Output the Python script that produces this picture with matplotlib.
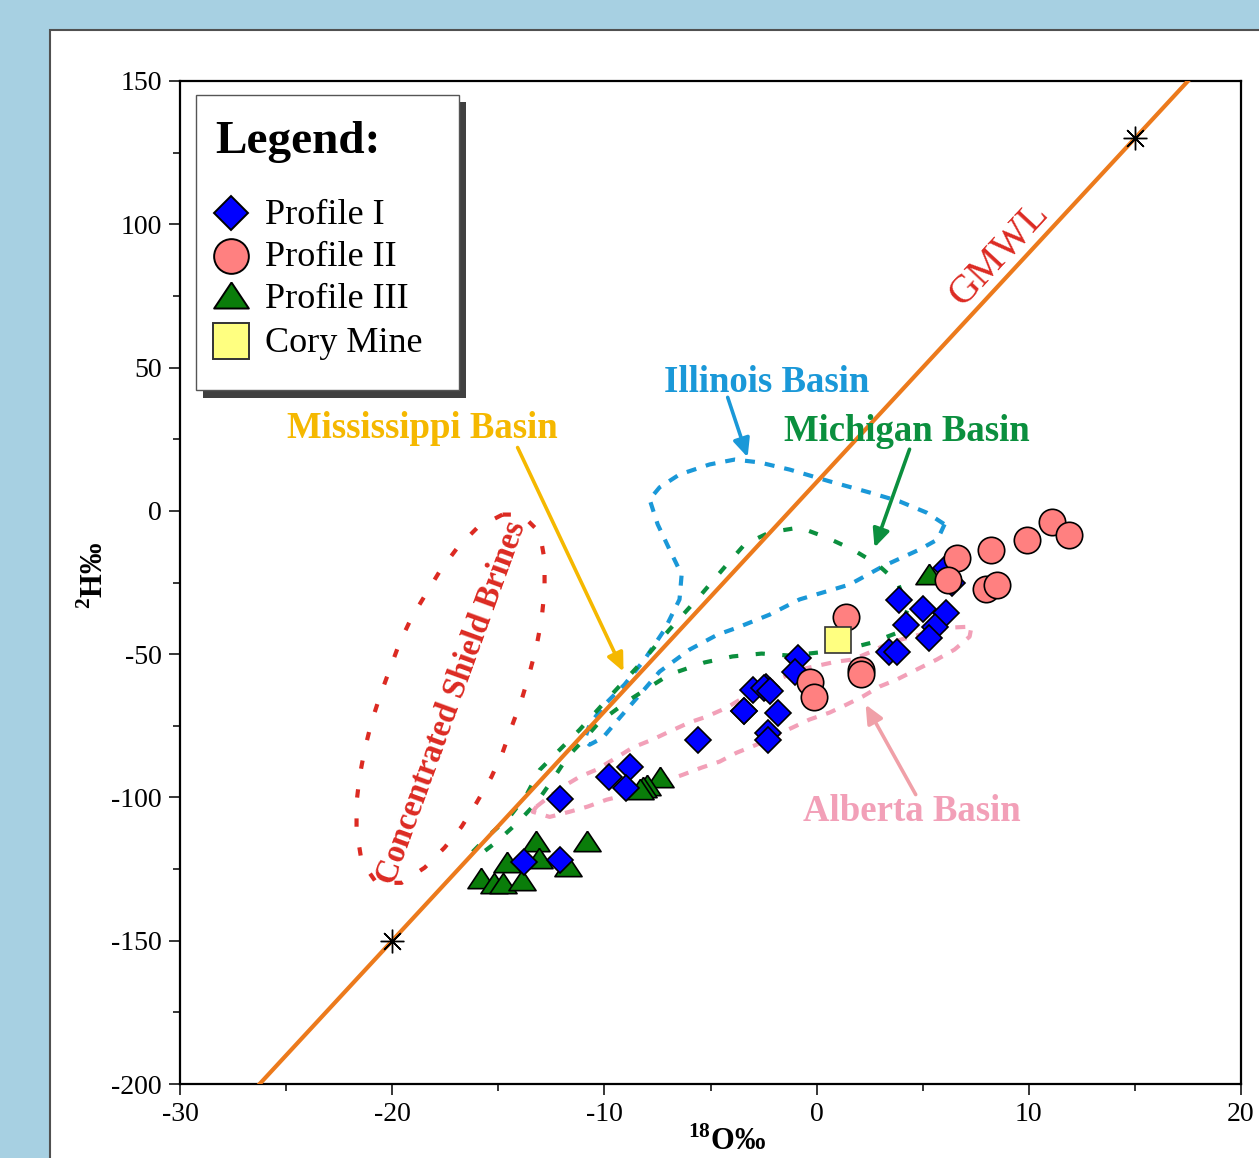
import numpy as np
import matplotlib
matplotlib.use("Agg")
import matplotlib.pyplot as plt
from matplotlib.patches import Rectangle

plt.rcParams["font.family"] = ["Liberation Serif", "DejaVu Serif"]
plt.rcParams["mathtext.fontset"] = "custom"
plt.rcParams["mathtext.rm"] = "Liberation Serif"
plt.rcParams["mathtext.bf"] = "Liberation Serif:bold"
plt.rcParams["axes.unicode_minus"] = False

# ---- sample isotope data (d18O, d2H, per mil) ----
profile1_o = [-12.1, -9.8, -8.8, -9.0, -13.8, -12.1, -5.6, -3.4, -3.0, -2.4,
              -0.9, -1.0, -2.5, -2.2, -3.4, -1.8, -2.3, -2.3,
              6.1, 6.4, 3.9, 5.0, 6.1, 4.2, 5.6, 5.3, 3.4, 3.8]
profile1_h = [-100.4, -92.8, -89.3, -96.6, -122.5, -121.8, -79.8, -69.7, -62.4, -61.3,
              -51.3, -56.1, -61.7, -63.0, -70.0, -70.4, -77.4, -79.8,
              -19.8, -25.0, -31.0, -34.4, -35.5, -39.7, -40.7, -44.2, -49.1, -49.1]

profile2_o = [6.6, 6.2, 1.4, 2.1, 2.1, 8.2, 9.9, 11.1, 11.9, 8.0, 8.5, -0.3, -0.1]
profile2_h = [-16.4, -24.0, -36.9, -55.4, -57.1, -13.5, -10.0, -3.9, -8.4, -27.4, -25.7, -59.6, -64.8]

profile3_o = [-15.8, -15.2, -14.8, -14.6, -13.9, -13.2, -13.1, -11.7, -10.8,
              -7.4, -8.0, -8.2, -8.3, 5.3]
profile3_h = [-128.0, -129.8, -129.8, -122.4, -128.7, -115.1, -121.0, -123.8, -115.1,
              -92.7, -95.6, -96.3, -97.0, -22.2]

cory_o = [1.0]
cory_h = [-44.9]

# Global Meteoric Water Line: d2H = 8 * d18O + 10
gmwl_slope = 8.0
gmwl_intercept = 10.0
gmwl_marks_o = [-20.0, 15.0]

# ---- basin fields (d18O, d2H outlines) ----
shield_o = [-14.80, -13.90, -13.05, -12.82, -12.82, -12.96, -13.20, -13.52, -13.90, -14.37,
            -14.80, -15.32, -16.02, -16.73, -17.53, -18.47, -19.56, -20.74, -21.44, -21.68,
            -21.68, -21.54, -21.30, -20.97, -20.59, -20.12, -19.65, -19.09, -18.38, -17.77,
            -16.92, -15.98]
shield_h = [-1.3, -1.3, -7.5, -17.1, -27.6, -37.9, -47.3, -56.4, -65.9, -75.3,
            -84.4, -92.8, -101.8, -110.2, -117.5, -124.5, -129.8, -129.8, -122.4, -111.3,
            -101.8, -92.8, -83.4, -73.6, -64.9, -55.4, -46.0, -37.3, -28.6, -21.2,
            -12.8, -5.8]

illinois_o = [6.03, 5.70, 4.85, 3.11, 1.56, -0.80, -2.21, -3.72, -4.67, -5.98,
              -7.40, -8.34, -9.28, -10.08, -10.70, -10.93, -10.70, -9.99, -9.05, -8.11,
              -7.16, -6.46, -6.36, -6.93, -7.49, -7.87, -7.40, -6.46, -5.04, -3.86,
              -2.69, -1.27, 0.61, 2.50, 3.91, 5.18]
illinois_h = [-4.7, -10.0, -13.5, -19.4, -25.7, -30.9, -36.2, -40.7, -43.2, -48.4,
              -56.1, -64.2, -72.2, -79.2, -81.6, -79.9, -74.6, -67.6, -60.6, -51.9,
              -41.4, -30.9, -22.2, -13.5, -4.7, 4.0, 8.2, 12.7, 16.2, 17.9,
              16.9, 14.4, 10.3, 6.4, 3.3, -0.6]

michigan_o = [-16.21, -15.41, -14.47, -13.67, -13.05, -12.11, -11.17, -9.76, -8.34, -6.93,
              -5.51, -4.34, -3.39, -2.21, -0.80, 0.47, 1.70, 2.87, 3.82, 4.29,
              3.82, 2.59, 1.32, 0.00, -1.27, -2.59, -3.96, -5.28, -6.93, -8.81,
              -10.23, -10.84, -11.73, -12.44, -13.20, -14.09, -15.08, -15.88]
michigan_h = [-119.0, -113.0, -106.8, -99.1, -90.4, -83.4, -76.4, -64.9, -53.6, -41.4,
              -29.8, -19.7, -11.7, -7.5, -5.8, -9.3, -13.5, -18.7, -25.0, -34.4,
              -42.5, -46.0, -48.4, -49.5, -50.5, -49.8, -50.8, -52.9, -57.1, -65.9,
              -73.6, -78.8, -85.8, -93.8, -101.8, -108.8, -115.5, -120.1]

alberta_o = [-13.20, -12.58, -11.78, -11.17, -10.37, -9.43, -8.67, -7.73, -6.93, -5.98,
             -5.18, -4.24, -2.83, -0.80, 0.94, 1.70, 2.59, 3.44, 4.48, 5.47,
             6.41, 7.30, 7.21, 6.50, 5.66, 4.71, 3.77, 2.97, 2.17, 1.41,
             0.61, -0.33, -1.13, -2.07, -2.83, -3.77, -4.57, -5.42, -6.31, -8.95,
             -9.90, -10.79, -11.64, -12.58, -13.38]
alberta_h = [-103.2, -99.6, -95.5, -92.8, -90.3, -86.1, -82.6, -79.8, -77.0, -73.8,
             -71.8, -68.7, -62.4, -55.4, -52.6, -51.9, -49.1, -46.0, -43.9, -42.1,
             -40.7, -40.4, -43.9, -48.4, -51.9, -55.4, -58.9, -61.3, -64.8, -67.6,
             -70.4, -72.8, -75.6, -78.8, -81.6, -84.4, -87.5, -89.6, -92.1, -99.1,
             -100.8, -103.2, -105.0, -106.8, -105.0]

legend_labels = ["Profile I", "Profile II", "Profile III", "Cory Mine"]

x_ticks = [-30, -20, -10, 0, 10, 20]
y_ticks = [-200, -150, -100, -50, 0, 50, 100, 150]

# ---- colours ----
C_GMWL = "#ec7a1c"
C_RED = "#dc2a22"
C_GOLD = "#f5b800"
C_BLUE = "#1a98d8"
C_GREEN = "#0b8f3e"
C_PINK = "#f2a0b8"
C_ARROW_PINK = "#f0a0a8"

W, H = 1259, 1158
fig = plt.figure(figsize=(W / 100, H / 100), dpi=100)
fig.patch.set_facecolor("#a7d0e2")
fig.patches.append(Rectangle((50 / W, -0.1), 1.2, 1.1 - 30 / H, transform=fig.transFigure,
                             facecolor="white", edgecolor="#505050", lw=1.5, zorder=-5))

ax = fig.add_axes([180 / W, (H - 1084) / H, 1061 / W, 1003 / H])
ax.set_zorder(1)
ax.set_xlim(-30, 20)
ax.set_ylim(-200, 150)
for s in ax.spines.values():
    s.set_linewidth(1.6)
    s.set_color("black")

ax.set_xticks(x_ticks)
ax.set_yticks(y_ticks)
ax.set_xticks(np.arange(-25, 20, 10), minor=True)
ax.set_yticks(np.arange(-175, 150, 50), minor=True)
ax.tick_params(which="major", direction="out", length=8, width=1.1, labelsize=20, pad=5)
ax.tick_params(which="minor", direction="out", length=5, width=1.1)
ax.set_xticklabels([str(v) for v in x_ticks])
ax.set_yticklabels([str(v) for v in y_ticks])

# GMWL
gx = np.array([-30.0, 20.0])
ax.plot(gx, gmwl_slope * gx + gmwl_intercept, color=C_GMWL, lw=3.0, zorder=3, solid_capstyle="butt")
gm = np.array(gmwl_marks_o)
ax.plot(gm, gmwl_slope * gm + gmwl_intercept, ls="none", marker=(8, 2, 0), ms=17,
        mec="black", mew=1.0, zorder=6)


def outline(xs, ys, color, dashes):
    xs = list(xs) + [xs[0]]
    ys = list(ys) + [ys[0]]
    ax.plot(xs, ys, color=color, lw=3.0, dashes=dashes, zorder=2, solid_joinstyle="round")


outline(shield_o, shield_h, C_RED, (2.0, 5.0))
outline(illinois_o, illinois_h, C_BLUE, (2.4, 2.4))
outline(michigan_o, michigan_h, C_GREEN, (2.2, 4.2))
outline(alberta_o, alberta_h, C_PINK, (2.4, 2.4))

# sample markers
tri = [(0, 0.75), (-1, -0.75), (1, -0.75), (0, 0.75)]
ax.plot(profile3_o, profile3_h, ls="none", marker=tri, ms=19.5, mfc="#0a7d0a", mec="black", mew=1.2, zorder=7)
ax.plot(profile1_o, profile1_h, ls="none", marker="D", ms=13.5, mfc="#0000ff", mec="black", mew=1.2, zorder=8)
ax.plot(profile2_o, profile2_h, ls="none", marker="o", ms=19, mfc="#ff8080", mec="black", mew=1.2, zorder=9)
ax.plot(cory_o, cory_h, ls="none", marker="s", ms=19, mfc="#ffff80", mec="#333333", mew=1.2, zorder=10)

# annotations
bold = dict(fontweight="bold", fontsize=26.5)
ax.text(-18.57, 28.8, "Mississippi Basin", color=C_GOLD, ha="center", va="center", **bold)
ax.text(-2.36, 44.9, "Illinois Basin", color=C_BLUE, ha="center", va="center", **bold)
ax.text(4.24, 27.7, "Michigan Basin", color=C_GREEN, ha="center", va="center", **bold)
ax.text(4.48, -105.0, "Alberta Basin", color=C_PINK, ha="center", va="center", **bold)
ax.text(-17.2, -66.9, "Concentrated Shield Brines", color=C_RED, ha="center", va="center",
        rotation=70, rotation_mode="anchor", fontweight="bold", fontsize=23.5)
ax.text(8.62, 89.6, "GMWL", color=C_RED, ha="center", va="center", rotation=47,
        rotation_mode="anchor", fontsize=29)


def arrow(x0, y0, x1, y1, color):
    ax.annotate("", xy=(x1, y1), xytext=(x0, y0),
                arrowprops=dict(arrowstyle="-|>,head_length=1.1,head_width=0.5", color=color,
                                lw=2.6, shrinkA=0, shrinkB=0), zorder=5)


arrow(-14.09, 22.1, -9.10, -56.1, C_GOLD)
arrow(-4.19, 39.6, -3.25, 18.7, C_BLUE)
arrow(4.38, 21.5, 2.73, -12.8, C_GREEN)
arrow(4.67, -99.0, 2.31, -67.6, C_ARROW_PINK)

# legend panel
T = ax.transAxes


def fx(px):
    return (px - 180) / 1061


def fy(py):
    return (1084 - py) / 1003


ax.add_patch(Rectangle((fx(203), fy(398)), fx(466) - fx(203), fy(102) - fy(398), transform=T,
                       facecolor="#404040", edgecolor="none", zorder=11))
ax.add_patch(Rectangle((fx(196), fy(390)), fx(459) - fx(196), fy(95) - fy(390), transform=T,
                       facecolor="white", edgecolor="#555555", lw=1.0, zorder=12))
ax.text(fx(215), fy(153), "Legend:", transform=T, fontsize=34, fontweight="bold",
        ha="left", va="baseline", zorder=13)
leg_styles = [
    dict(marker="D", ms=17.8, mfc="#0000ff", mec="black"),
    dict(marker="o", ms=25, mfc="#ff8080", mec="black"),
    dict(marker=tri, ms=25, mfc="#0a7d0a", mec="black"),
    dict(marker="s", ms=25.5, mfc="#ffff80", mec="#333333"),
]
marker_rows = [213, 256, 295, 341]
text_rows = [224, 266, 308, 352]
for lab, st, my, ty in zip(legend_labels, leg_styles, marker_rows, text_rows):
    ax.plot([fx(231)], [fy(my)], transform=T, ls="none", mew=1.4, zorder=13, clip_on=False, **st)
    ax.text(fx(265), fy(ty), lab, transform=T, fontsize=26, ha="left", va="baseline", zorder=13)

# axis titles
ax.text(fx(727), fy(1142), r"$^{\mathbf{18}}$O‰", transform=T, fontsize=22, fontweight="bold",
        ha="center", va="center")
ax.text(fx(95), fy(575), r"$^{\mathbf{2}}$H‰", transform=T, fontsize=22, fontweight="bold",
        ha="center", va="center", rotation=90)

fig.savefig("out.png", dpi=100, facecolor=fig.get_facecolor())
